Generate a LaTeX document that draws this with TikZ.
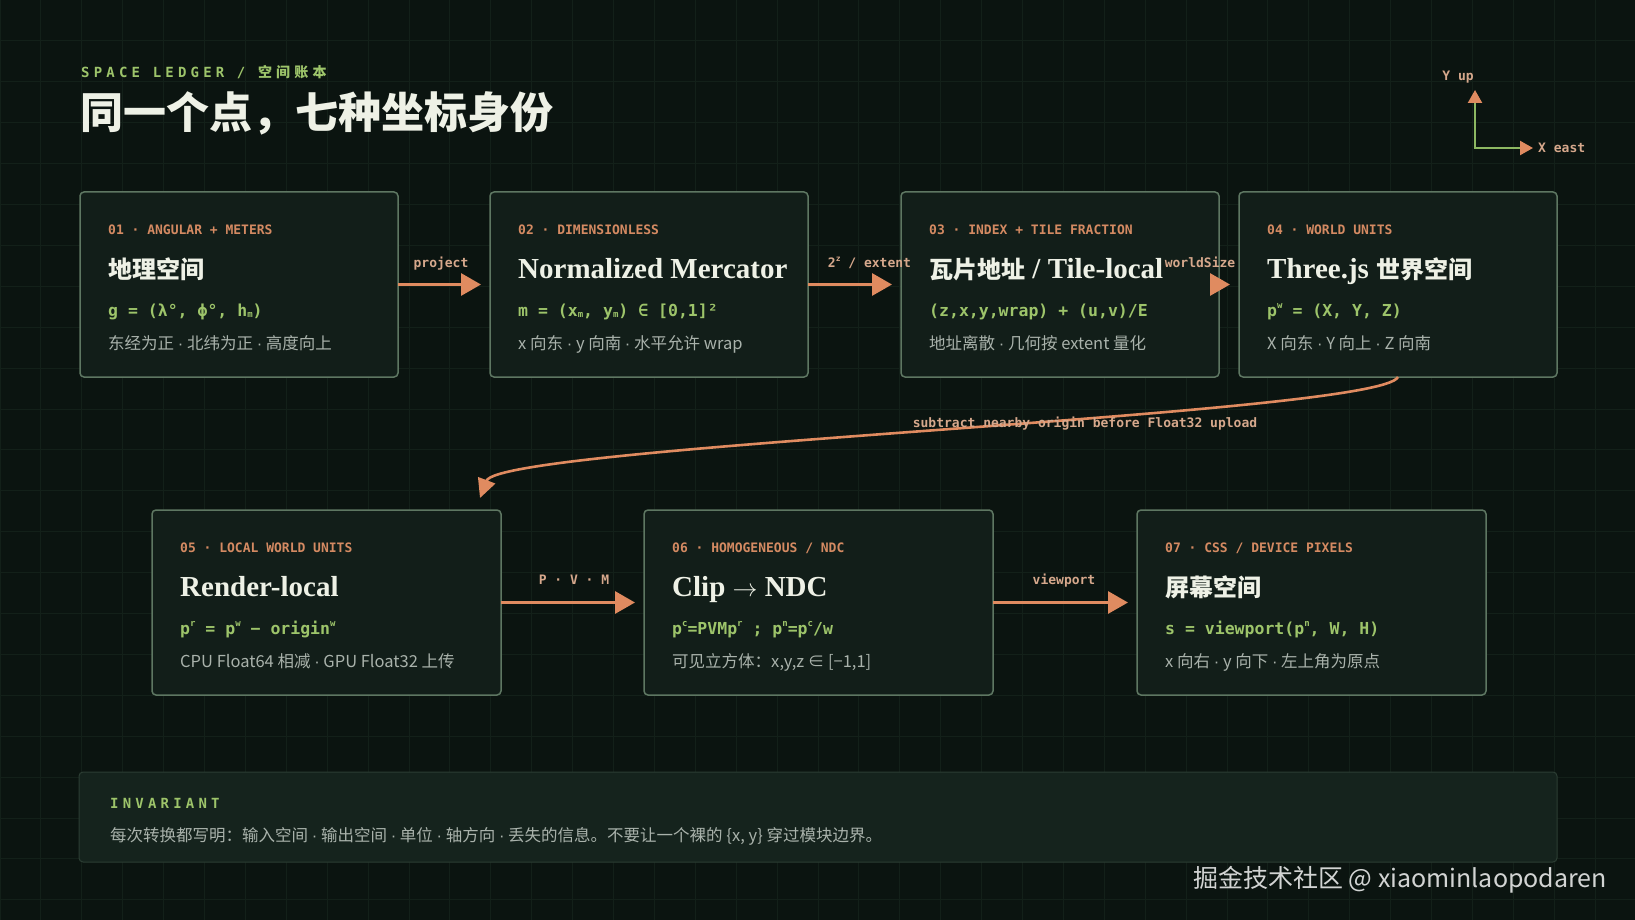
\documentclass[tikz,border=0pt]{standalone}
\usepackage{fontspec}
\setmainfont{Liberation Serif}
\newfontfamily\cjk{Noto Sans CJK SC}
\newfontfamily\mono{DejaVu Sans Mono}
\newfontfamily\dotfont{Liberation Sans}
\usetikzlibrary{arrows.meta,calc}

\definecolor{bgc}{HTML}{0B1410}
\definecolor{gridc}{HTML}{132019}
\definecolor{boxfill}{HTML}{121E19}
\definecolor{boxline}{HTML}{5E7762}
\definecolor{invfill}{HTML}{15231D}
\definecolor{invline}{HTML}{2C3D33}
\definecolor{accent}{HTML}{E08B60}
\definecolor{tagc}{HTML}{D48A62}
\definecolor{tanc}{HTML}{D6A88C}
\definecolor{formc}{HTML}{9DC46A}
\definecolor{axisc}{HTML}{8DB862}
\definecolor{titlec}{HTML}{EEF1E6}
\definecolor{notec}{HTML}{A9B2AB}

\newcommand\upx[2][9]{\raisebox{0.45em}{\fontsize{#1}{#1}\selectfont #2}}
\newcommand\dnx[2][9]{\raisebox{-0.1em}{\fontsize{#1}{#1}\selectfont #2}}
\newcommand\zh[1]{{\cjk\fontsize{24}{26}\selectfont #1}}
\newcommand\md{{\dotfont ·}}

\tikzset{
  card/.style={draw=boxline, fill=boxfill, line width=1.5pt, rounded corners=4pt,
    minimum height=185pt, anchor=north west, outer sep=0pt, inner sep=0pt},
  tagtext/.style={anchor=base west, inner sep=0pt, text=tagc, font=\mono\bfseries\fontsize{13}{15}\selectfont},
  titletext/.style={anchor=base west, inner sep=0pt, text=titlec, font=\bfseries\fontsize{29}{30}\selectfont},
  formtext/.style={anchor=base west, inner sep=0pt, text=formc, font=\mono\bfseries\fontsize{16.5}{18}\selectfont},
  notetext/.style={anchor=base west, inner sep=0pt, text=notec, font=\cjk\fontsize{16.5}{18}\selectfont},
  headtext/.style={anchor=base west, inner sep=0pt, text=formc,
    font=\mono\bfseries\fontsize{14}{15}\selectfont\addfontfeature{LetterSpace=30}},
  flowlabel/.style={anchor=base, inner sep=0pt, text=tanc, font=\mono\bfseries\fontsize{13}{15}\selectfont},
  flow/.style={draw=accent, line width=3pt, -{Triangle[length=20pt,width=22pt]}, shorten >=9pt},
  axisline/.style={draw=axisc, line width=2.2pt, -{Triangle[length=13pt,width=14pt,color=accent]}},
  invbox/.style={draw=invline, fill=invfill, line width=1pt, rounded corners=4pt,
    anchor=north west, minimum width=1478pt, minimum height=90pt, outer sep=0pt},
}

% name, x, y, width, tag, title, formula, note
\newcommand\spacecard[8]{%
  \node[card, minimum width=#4pt] (#1) at (#2,#3) {};
  \node[tagtext] (#1-tag) at ($(#1.north west)+(28,42)$) {#5};
  \node[titletext] (#1-title) at ($(#1.north west)+(28,86)$) {#6};
  \node[formtext] (#1-form) at ($(#1.north west)+(28,124)$) {#7};
  \node[notetext] (#1-note) at ($(#1.north west)+(28,157)$) {#8};
}

\begin{document}
\begin{tikzpicture}[x=1pt, y=-1pt]
  \useasboundingbox (0,0) rectangle (1635,920);
  % Background and grid
  \fill[bgc] (0,0) rectangle (1635,920);
  \foreach \i in {0,...,40}
    \draw[gridc, line width=1pt] (40.9*\i,0) -- (40.9*\i,920);
  \foreach \j in {0,...,22}
    \draw[gridc, line width=1pt] (0,40.9*\j) -- (1635,40.9*\j);

  % Heading
  \node[headtext] (kicker) at (81,77.5) {SPACE LEDGER / {\cjk\bfseries\addfontfeature{LetterSpace=30}空间账本}};
  \node[anchor=base west, inner sep=0pt, text=titlec, font=\cjk\bfseries\fontsize{43}{46}\selectfont]
    (headline) at (80,128.5) {同一个点，七种坐标身份};

  % Axes
  \coordinate (ax0) at (1475,148);
  \coordinate (axy) at (1475,90);
  \coordinate (axx) at (1533,148);
  \draw[axisline] (ax0) -- (axy);
  \draw[axisline] ([xshift=-1.1pt]ax0) -- (axx);
  \node[flowlabel] (ylab) at (1458,81) {Y up};
  \node[flowlabel, anchor=base west] (xlab) at (1538,153) {X east};

  % First row
  \spacecard{b1}{80}{192}{318}{01 · ANGULAR + METERS}{\zh{地理空间}}
    {g = (λ°, ϕ°, h\dnx{m})}{东经为正 \md{} 北纬为正 \md{} 高度向上}
  \spacecard{b2}{490}{192}{318}{02 · DIMENSIONLESS}{Normalized Mercator}
    {m = (x\dnx{m}, y\dnx{m}) ∈ [0,1]²}{x 向东 \md{} y 向南 \md{} 水平允许 wrap}
  \spacecard{b3}{901}{192}{318}{03 · INDEX + TILE FRACTION}{\zh{瓦片地址} / Tile-local}
    {(z,x,y,wrap) + (u,v)/E}{地址离散 \md{} 几何按 extent 量化}
  \spacecard{b4}{1239}{192}{318}{04 · WORLD UNITS}{Three.js \zh{世界空间}}
    {p\upx{w} = (X, Y, Z)}{X 向东 \md{} Y 向上 \md{} Z 向南}

  % Second row
  \spacecard{b5}{152}{510}{349}{05 · LOCAL WORLD UNITS}{Render-local}
    {p\upx{r} = p\upx{w} − origin\upx{w}}{CPU Float64 相减 \md{} GPU Float32 上传}
  \spacecard{b6}{644}{510}{349}{06 · HOMOGENEOUS / NDC}{Clip $\rightarrow$ NDC}
    {p\upx{c}=PVMp\upx{r} ; p\upx{n}=p\upx{c}/w}{可见立方体：x,y,z ∈ [−1,1]}
  \spacecard{b7}{1137}{510}{349}{07 · CSS / DEVICE PIXELS}{\zh{屏幕空间}}
    {s = viewport(p\upx{n}, W, H)}{x 向右 \md{} y 向下 \md{} 左上角为原点}

  % Connectors
  \draw[flow] (b1.east) -- (b2.west) node[flowlabel, midway, xshift=-3pt, yshift=17.5pt] (l12) {project};
  \draw[flow] (b2.east) -- (b3.west) node[flowlabel, midway, xshift=15pt, yshift=17.5pt] (l23) {2\upx[8]{z} / extent};
  \draw[flow] (b3.east) -- (b4.west) node[flowlabel, midway, xshift=-29pt, yshift=17.5pt] (l34) {worldSize};
  \draw[flow] (b5.east) -- (b6.west) node[flowlabel, midway, xshift=1.5pt, yshift=18pt] (l56) {P · V · M};
  \draw[flow] (b6.east) -- (b7.west) node[flowlabel, midway, xshift=-1pt, yshift=18pt] (l67) {viewport};
  \draw[flow, line width=2.6pt, shorten >=0pt, -{Triangle[length=19pt,width=18pt]}]
    (b4.south) .. controls (1380,415) and (500,445) .. ($(b5.north east)+(-21,-12)$);
  \node[flowlabel] (shiftnote) at (1085,427) {subtract nearby origin before Float32 upload};

  % Invariant
  \node[invbox] (inv) at (79,772) {};
  \node[headtext] (invhead) at ($(inv.north west)+(31,36)$) {INVARIANT};
  \node[notetext] (invnote) at ($(inv.north west)+(31,69)$)
    {每次转换都写明：输入空间 \md{} 输出空间 \md{} 单位 \md{} 轴方向 \md{} 丢失的信息。不要让一个裸的 \{x, y\} 穿过模块边界。};

  % Watermark
  \node[anchor=west, inner sep=0pt, text=white, opacity=0.82, font=\cjk\fontsize{25}{28}\selectfont]
    (mark) at (1193,880) {掘金技术社区 @ xiaominlaopodaren};
\end{tikzpicture}
\end{document}
